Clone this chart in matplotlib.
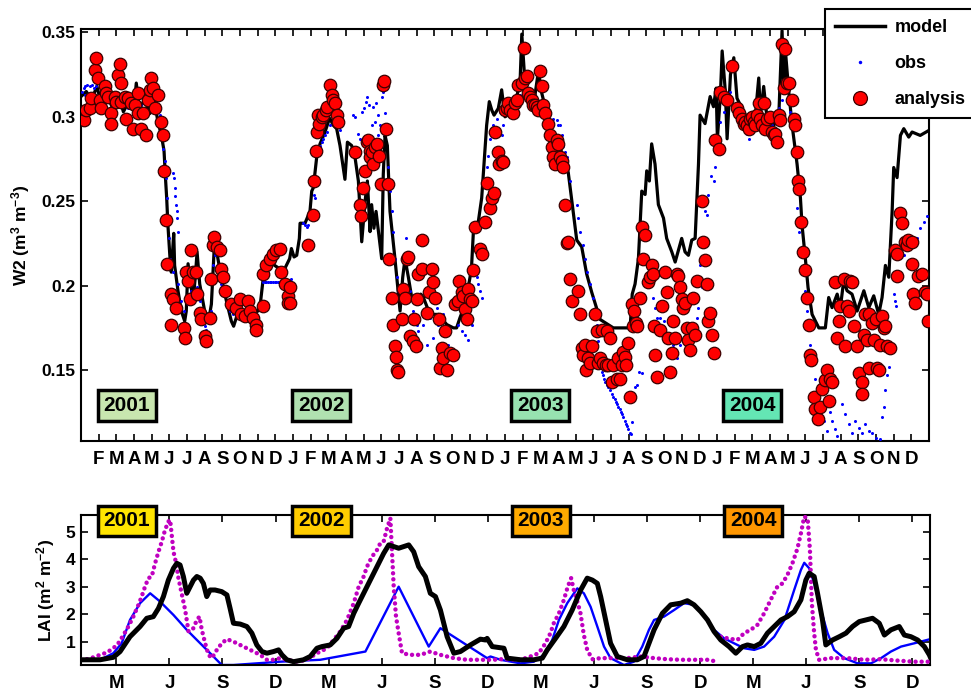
import numpy as np
import matplotlib
matplotlib.use('Agg')
import matplotlib.pyplot as plt
import matplotlib.transforms as mtransforms
from matplotlib.lines import Line2D

plt.rcParams['font.family'] = ['Liberation Sans', 'DejaVu Sans']
plt.rcParams['font.weight'] = 'bold'
plt.rcParams['mathtext.fontset'] = 'custom'
plt.rcParams['mathtext.rm'] = 'Liberation Sans:bold'
plt.rcParams['mathtext.it'] = 'Liberation Sans:bold'
plt.rcParams['mathtext.bf'] = 'Liberation Sans:bold'
plt.rcParams['mathtext.default'] = 'rm'

# time axis: months since 1 Jan 2001
years = ['2001', '2002', '2003', '2004']
year_pos = [2.6, 13.6, 26.0, 38.0]
w2_box_colors = ['#c8e6af', '#b0e1b0', '#97e2b0', '#64e6b4']
lai_box_colors = ['#ffe400', '#ffcc00', '#ffaa00', '#ff9600']
month_letters = list('JFMAMJJASOND')

# W2 model (month, m3/m3)
model_pts = [
    (0.0, 0.312), (0.3, 0.315), (0.6, 0.310), (0.9, 0.318), (1.2, 0.306), (1.5, 0.312),
    (1.8, 0.305), (2.1, 0.314), (2.4, 0.303), (2.7, 0.309), (3.0, 0.305), (3.13, 0.320),
    (3.3, 0.305), (3.6, 0.310), (3.9, 0.302), (4.1, 0.312), (4.36, 0.297), (4.55, 0.289),
    (4.70, 0.280), (4.77, 0.266), (4.85, 0.252), (4.92, 0.236), (5.04, 0.216), (5.11, 0.208),
    (5.25, 0.231), (5.30, 0.212), (5.49, 0.197), (5.68, 0.185), (5.87, 0.179), (5.96, 0.185),
    (6.06, 0.213), (6.21, 0.201), (6.34, 0.191), (6.47, 0.205), (6.57, 0.220), (6.72, 0.201),
    (7.0, 0.185), (7.25, 0.181), (7.38, 0.189), (7.57, 0.228), (7.75, 0.216), (7.94, 0.205),
    (8.23, 0.191), (8.51, 0.179), (8.64, 0.176), (8.79, 0.181), (8.98, 0.187), (9.26, 0.185),
    (9.64, 0.183), (10.02, 0.185), (10.17, 0.191), (10.30, 0.203), (10.49, 0.212), (10.68, 0.216),
    (10.96, 0.212), (11.25, 0.210), (11.53, 0.210), (11.81, 0.216), (11.91, 0.222), (12.06, 0.217),
    (12.21, 0.218), (12.36, 0.228), (12.40, 0.237), (12.68, 0.237), (12.96, 0.244), (13.06, 0.256),
    (13.15, 0.258), (13.34, 0.276), (13.53, 0.284), (13.81, 0.291), (14.0, 0.297), (14.09, 0.299),
    (14.28, 0.295), (14.47, 0.293), (14.66, 0.283), (14.94, 0.263), (15.08, 0.285), (15.32, 0.283),
    (15.51, 0.276), (15.70, 0.262), (15.89, 0.226), (16.08, 0.250), (16.21, 0.262), (16.36, 0.232),
    (16.45, 0.248), (16.58, 0.234), (16.70, 0.244), (16.79, 0.236), (17.02, 0.216), (17.11, 0.266),
    (17.21, 0.289), (17.34, 0.283), (17.49, 0.244), (17.77, 0.216), (18.06, 0.185), (18.21, 0.205),
    (18.34, 0.216), (18.53, 0.205), (18.72, 0.193), (19.0, 0.189), (19.23, 0.195), (19.38, 0.193),
    (19.75, 0.183), (20.23, 0.183), (20.70, 0.177), (21.08, 0.175), (21.26, 0.175), (21.45, 0.181),
    (21.74, 0.189), (22.02, 0.205), (22.11, 0.212), (22.21, 0.232), (22.49, 0.238), (22.68, 0.252),
    (22.81, 0.272), (22.96, 0.295), (23.11, 0.309), (23.25, 0.304), (23.38, 0.301), (23.62, 0.305),
    (23.81, 0.316), (24.0, 0.300), (24.47, 0.304), (24.85, 0.320), (24.95, 0.349), (25.13, 0.320),
    (25.6, 0.306), (25.89, 0.327), (26.08, 0.314), (26.55, 0.294), (27.11, 0.282), (27.58, 0.267),
    (27.87, 0.243), (28.06, 0.227), (28.34, 0.223), (28.62, 0.207), (28.91, 0.196), (29.38, 0.180),
    (30.13, 0.175), (31.08, 0.175), (31.2, 0.195), (31.36, 0.201), (31.55, 0.216), (31.74, 0.256),
    (31.93, 0.254), (32.02, 0.268), (32.17, 0.262), (32.30, 0.284), (32.49, 0.272), (32.68, 0.248),
    (32.97, 0.240), (33.15, 0.228), (33.44, 0.220), (33.63, 0.214), (34.0, 0.228), (34.19, 0.220),
    (34.38, 0.218), (34.57, 0.227), (34.76, 0.228), (34.95, 0.272), (35.04, 0.301), (35.32, 0.296),
    (35.61, 0.312), (35.80, 0.306), (35.95, 0.317), (36.02, 0.287), (36.19, 0.313), (36.29, 0.339),
    (36.47, 0.315), (36.57, 0.287), (36.76, 0.325), (36.95, 0.335), (37.13, 0.311), (37.42, 0.305),
    (37.80, 0.297), (38.17, 0.301), (38.36, 0.323), (38.46, 0.301), (38.64, 0.318), (38.83, 0.299),
    (39.21, 0.295), (39.49, 0.299), (39.68, 0.351), (39.78, 0.315), (39.87, 0.339), (40.06, 0.315),
    (40.25, 0.295), (40.53, 0.272), (40.72, 0.252), (40.81, 0.236), (41.0, 0.216), (41.15, 0.199),
    (41.38, 0.183), (41.76, 0.175), (42.13, 0.175), (42.32, 0.193), (42.51, 0.187), (42.80, 0.195),
    (42.98, 0.187), (43.17, 0.203), (43.36, 0.197), (43.64, 0.195), (43.93, 0.185), (44.31, 0.197),
    (44.59, 0.187), (44.87, 0.194), (45.15, 0.183), (45.34, 0.193), (45.53, 0.212), (45.72, 0.205),
    (45.91, 0.244), (46.0, 0.270), (46.19, 0.264), (46.38, 0.289), (46.57, 0.293), (46.85, 0.288),
    (47.04, 0.291), (47.5, 0.289), (48.0, 0.292),
]

# W2 observations
obs_pts = [
    (0.06, 0.315), (0.17, 0.317), (0.21, 0.313), (0.25, 0.318), (0.36, 0.319), (0.40, 0.312),
    (0.49, 0.318), (0.62, 0.319), (0.74, 0.317), (0.87, 0.318), (1.15, 0.315), (1.53, 0.311),
    (1.91, 0.309), (2.28, 0.312), (2.66, 0.305), (3.04, 0.310), (3.42, 0.307), (3.79, 0.303),
    (4.17, 0.307), (4.45, 0.301), (4.58, 0.291), (4.64, 0.281), (4.74, 0.274), (4.79, 0.264),
    (4.85, 0.252), (4.92, 0.240), (4.98, 0.228), (5.04, 0.216), (5.21, 0.267), (5.26, 0.264),
    (5.30, 0.258), (5.34, 0.253), (5.40, 0.248), (5.43, 0.244), (5.45, 0.240), (5.49, 0.232),
    (5.21, 0.208), (5.30, 0.197), (5.49, 0.201), (5.68, 0.191), (5.83, 0.185), (5.91, 0.177),
    (6.06, 0.189), (6.25, 0.197), (6.43, 0.207), (6.58, 0.199), (6.72, 0.191), (6.85, 0.183),
    (7.0, 0.176), (7.09, 0.174), (7.19, 0.172), (7.34, 0.185), (7.47, 0.212), (7.57, 0.218),
    (7.75, 0.208), (7.94, 0.201), (8.13, 0.195), (8.42, 0.185), (8.60, 0.183), (8.89, 0.187),
    (9.17, 0.185), (9.45, 0.188), (9.74, 0.185), (10.02, 0.181), (10.17, 0.187), (10.30, 0.202),
    (10.40, 0.202), (10.49, 0.202), (10.58, 0.202), (10.68, 0.202), (10.78, 0.202), (10.87, 0.202),
    (10.96, 0.202), (11.06, 0.202), (11.15, 0.202), (11.25, 0.202), (11.34, 0.202), (11.43, 0.202),
    (11.53, 0.202), (11.62, 0.202), (11.72, 0.202), (11.81, 0.203), (11.90, 0.204),
    (12.58, 0.237), (12.68, 0.236), (12.77, 0.235), (12.87, 0.236), (13.19, 0.254), (13.26, 0.252),
    (13.53, 0.283), (13.62, 0.285), (13.72, 0.287), (13.81, 0.289), (13.91, 0.291), (14.09, 0.295),
    (14.28, 0.297), (14.47, 0.295), (14.66, 0.292), (15.42, 0.301), (15.51, 0.300), (15.70, 0.290),
    (15.79, 0.287), (15.89, 0.303), (16.02, 0.305), (16.13, 0.309), (16.21, 0.312), (16.32, 0.307),
    (16.45, 0.295), (16.51, 0.306), (16.64, 0.297), (16.70, 0.308), (16.83, 0.301), (16.83, 0.289),
    (16.92, 0.295), (17.02, 0.312), (17.11, 0.315), (17.21, 0.302), (17.40, 0.270), (17.49, 0.256),
    (17.58, 0.244), (17.68, 0.232), (17.77, 0.216), (17.87, 0.205), (17.96, 0.197), (18.15, 0.191),
    (18.40, 0.228), (18.53, 0.220), (18.62, 0.197), (18.81, 0.185), (19.0, 0.177), (19.09, 0.173),
    (19.38, 0.177), (19.57, 0.165), (19.75, 0.181), (19.94, 0.169), (20.13, 0.187), (20.23, 0.177),
    (20.51, 0.183), (20.70, 0.173), (20.79, 0.165), (21.36, 0.177), (21.55, 0.173), (21.74, 0.171),
    (21.92, 0.168), (22.11, 0.177), (22.40, 0.205), (22.49, 0.201), (22.58, 0.197), (22.68, 0.193),
    (22.87, 0.260), (22.96, 0.270), (23.06, 0.277), (23.15, 0.287), (23.34, 0.295), (23.53, 0.299),
    (23.72, 0.303), (23.81, 0.289), (23.91, 0.295), (24.10, 0.303), (24.47, 0.307), (24.85, 0.313),
    (25.23, 0.317), (25.61, 0.309), (25.98, 0.307), (26.36, 0.303), (26.74, 0.299), (26.93, 0.298),
    (27.02, 0.295), (27.12, 0.295), (27.21, 0.289), (27.30, 0.283), (27.40, 0.279), (27.49, 0.276),
    (27.59, 0.270), (27.68, 0.262), (28.06, 0.248), (28.15, 0.240), (28.25, 0.232), (28.40, 0.224),
    (28.53, 0.216), (28.66, 0.208), (28.81, 0.201), (28.96, 0.193), (29.19, 0.177), (29.29, 0.167),
    (29.38, 0.158), (29.48, 0.149), (29.55, 0.147), (29.61, 0.145), (29.68, 0.143), (29.76, 0.141),
    (29.85, 0.140), (29.95, 0.138), (30.05, 0.136), (30.13, 0.134), (30.20, 0.133), (30.29, 0.131),
    (30.35, 0.130), (30.42, 0.128), (30.48, 0.127), (30.55, 0.125), (30.62, 0.124), (30.70, 0.122),
    (30.78, 0.120), (30.85, 0.118), (30.92, 0.117), (30.98, 0.115), (31.05, 0.113), (31.12, 0.112),
    (31.17, 0.119), (31.36, 0.140), (31.46, 0.141), (31.61, 0.149), (31.74, 0.148), (32.02, 0.199),
    (32.21, 0.212), (32.30, 0.201), (32.40, 0.193), (32.49, 0.187), (32.59, 0.181), (32.78, 0.181),
    (32.97, 0.179), (33.06, 0.169), (33.34, 0.167), (33.53, 0.165), (33.72, 0.157), (33.91, 0.165),
    (34.85, 0.181), (34.95, 0.187), (35.04, 0.212), (35.13, 0.199), (35.32, 0.244), (35.42, 0.242),
    (35.51, 0.254), (35.64, 0.265), (35.80, 0.262), (35.91, 0.270), (36.19, 0.297), (36.38, 0.303),
    (36.57, 0.307), (36.76, 0.315), (37.51, 0.293), (37.70, 0.290), (37.83, 0.287), (37.98, 0.291),
    (38.36, 0.295), (38.74, 0.297), (39.12, 0.295), (39.49, 0.305), (39.68, 0.310), (39.87, 0.315),
    (40.15, 0.303), (40.44, 0.264), (40.53, 0.246), (40.66, 0.232), (40.78, 0.220), (40.85, 0.208),
    (40.96, 0.197), (41.10, 0.185), (41.19, 0.175), (41.29, 0.165), (41.38, 0.153), (41.57, 0.145),
    (41.72, 0.138), (41.85, 0.128), (42.04, 0.120), (42.23, 0.114), (42.42, 0.125), (42.51, 0.120),
    (42.66, 0.115), (42.80, 0.111), (43.08, 0.130), (43.27, 0.124), (43.46, 0.118), (43.64, 0.113),
    (43.83, 0.120), (44.02, 0.116), (44.21, 0.113), (44.40, 0.118), (44.59, 0.114), (44.78, 0.113),
    (44.97, 0.110), (45.25, 0.109), (45.34, 0.122), (45.44, 0.128), (45.49, 0.138), (45.63, 0.147),
    (45.72, 0.152), (46.0, 0.195), (46.06, 0.191), (46.13, 0.188), (46.57, 0.218), (46.76, 0.222),
    (47.04, 0.224), (47.32, 0.228), (47.51, 0.234), (47.70, 0.238), (47.89, 0.241),
]

# W2 analysis
ana_pts = [
    (0.17, 0.298), (0.30, 0.304), (0.49, 0.305), (0.58, 0.311), (0.77, 0.328), (0.87, 0.335),
    (0.96, 0.323), (1.06, 0.310), (1.15, 0.305), (1.34, 0.318), (1.43, 0.314), (1.53, 0.312),
    (1.72, 0.302), (1.72, 0.296), (1.91, 0.312), (2.0, 0.309), (2.09, 0.325), (2.19, 0.331),
    (2.28, 0.320), (2.28, 0.309), (2.47, 0.312), (2.57, 0.299), (2.66, 0.311), (2.85, 0.308),
    (2.94, 0.293), (3.04, 0.307), (3.23, 0.314), (3.23, 0.302), (3.42, 0.293), (3.51, 0.302),
    (3.70, 0.289), (3.79, 0.310), (3.89, 0.316), (3.98, 0.323), (4.08, 0.317), (4.21, 0.305),
    (4.36, 0.313), (4.55, 0.297), (4.64, 0.289), (4.70, 0.268), (4.83, 0.239), (4.89, 0.213),
    (5.11, 0.195), (5.11, 0.177), (5.21, 0.192), (5.40, 0.187), (5.83, 0.175), (5.87, 0.169),
    (5.96, 0.208), (6.06, 0.203), (6.15, 0.192), (6.25, 0.221), (6.34, 0.208), (6.53, 0.208),
    (6.58, 0.195), (6.72, 0.184), (6.81, 0.180), (7.0, 0.170), (7.09, 0.167), (7.28, 0.181),
    (7.38, 0.204), (7.47, 0.224), (7.53, 0.229), (7.72, 0.223), (7.85, 0.221), (7.94, 0.210),
    (8.04, 0.205), (8.13, 0.197), (8.51, 0.189), (8.79, 0.187), (8.98, 0.192), (9.08, 0.183),
    (9.26, 0.182), (9.45, 0.191), (9.55, 0.185), (9.74, 0.181), (9.92, 0.177), (9.92, 0.174),
    (10.30, 0.188), (10.30, 0.207), (10.49, 0.212), (10.68, 0.216), (10.87, 0.219), (11.06, 0.221),
    (11.25, 0.222), (11.34, 0.208), (11.53, 0.201), (11.72, 0.194), (11.72, 0.190), (11.83, 0.199),
    (11.83, 0.190), (12.87, 0.224), (13.11, 0.242), (13.19, 0.262), (13.30, 0.280), (13.38, 0.291),
    (13.43, 0.301), (13.49, 0.296), (13.62, 0.300), (13.72, 0.301), (13.87, 0.304), (13.94, 0.306),
    (14.09, 0.319), (14.19, 0.313), (14.28, 0.310), (14.38, 0.308), (14.47, 0.301), (14.57, 0.297),
    (15.51, 0.279), (15.79, 0.248), (15.83, 0.241), (15.94, 0.258), (16.08, 0.268), (16.21, 0.285),
    (16.26, 0.286), (16.36, 0.280), (16.36, 0.276), (16.45, 0.279), (16.55, 0.272), (16.64, 0.282),
    (16.77, 0.284), (16.89, 0.277), (16.96, 0.260), (17.08, 0.319), (17.17, 0.321), (17.26, 0.293),
    (17.40, 0.260), (17.45, 0.216), (17.58, 0.193), (17.68, 0.177), (17.77, 0.164), (17.83, 0.158),
    (17.91, 0.150), (17.96, 0.149), (18.15, 0.180), (18.25, 0.198), (18.34, 0.193), (18.43, 0.216),
    (18.53, 0.217), (18.62, 0.170), (18.77, 0.167), (18.85, 0.180), (18.96, 0.164), (19.0, 0.192),
    (19.09, 0.207), (19.28, 0.227), (19.28, 0.210), (19.60, 0.184), (19.72, 0.196), (19.85, 0.210),
    (19.94, 0.202), (20.04, 0.193), (20.28, 0.180), (20.32, 0.151), (20.42, 0.163), (20.51, 0.157),
    (20.60, 0.173), (20.70, 0.150), (20.89, 0.160), (21.08, 0.159), (21.17, 0.189), (21.36, 0.191),
    (21.42, 0.203), (21.55, 0.196), (21.64, 0.194), (21.74, 0.186), (21.83, 0.180), (21.92, 0.198),
    (22.02, 0.192), (22.11, 0.191), (22.17, 0.209), (22.30, 0.235), (22.58, 0.222), (22.68, 0.219),
    (22.87, 0.238), (23.0, 0.261), (23.15, 0.246), (23.25, 0.252), (23.38, 0.255), (23.43, 0.291),
    (23.62, 0.279), (23.68, 0.272), (23.81, 0.274), (23.91, 0.273), (24.0, 0.304), (24.10, 0.305),
    (24.19, 0.308), (24.29, 0.304), (24.47, 0.302), (24.57, 0.308), (24.66, 0.310), (24.76, 0.319),
    (24.95, 0.320), (25.08, 0.341), (25.14, 0.323), (25.23, 0.324), (25.32, 0.314), (25.42, 0.312),
    (25.51, 0.310), (25.61, 0.307), (25.70, 0.307), (25.80, 0.306), (25.89, 0.304), (25.98, 0.327),
    (26.08, 0.318), (26.17, 0.307), (26.27, 0.302), (26.46, 0.296), (26.55, 0.289), (26.64, 0.282),
    (26.74, 0.276), (26.83, 0.272), (26.93, 0.286), (27.02, 0.284), (27.12, 0.276), (27.21, 0.274),
    (27.30, 0.270), (27.40, 0.248), (27.49, 0.225), (27.59, 0.226), (27.68, 0.204), (27.78, 0.191),
    (28.15, 0.197), (28.25, 0.183), (28.34, 0.163), (28.44, 0.159), (28.53, 0.165), (28.59, 0.150),
    (28.72, 0.157), (28.81, 0.154), (28.91, 0.164), (29.10, 0.183), (29.19, 0.173), (29.29, 0.154),
    (29.38, 0.157), (29.48, 0.174), (29.57, 0.154), (29.72, 0.153), (29.76, 0.173), (29.85, 0.153),
    (29.95, 0.169), (30.04, 0.143), (30.13, 0.153), (30.32, 0.145), (30.42, 0.157), (30.51, 0.145),
    (30.61, 0.153), (30.70, 0.161), (30.80, 0.158), (30.85, 0.153), (30.98, 0.166), (31.08, 0.134),
    (31.17, 0.189), (31.27, 0.176), (31.32, 0.185), (31.42, 0.178), (31.46, 0.176), (31.64, 0.193),
    (31.74, 0.235), (31.83, 0.216), (31.93, 0.230), (32.12, 0.202), (32.21, 0.205), (32.30, 0.212),
    (32.40, 0.207), (32.44, 0.176), (32.49, 0.159), (32.59, 0.146), (32.78, 0.174), (32.87, 0.188),
    (33.06, 0.208), (33.15, 0.196), (33.25, 0.169), (33.34, 0.149), (33.44, 0.160), (33.49, 0.179),
    (33.63, 0.169), (33.72, 0.207), (33.81, 0.206), (33.91, 0.199), (34.0, 0.192), (34.06, 0.187),
    (34.19, 0.190), (34.29, 0.175), (34.38, 0.168), (34.47, 0.162), (34.57, 0.175), (34.66, 0.193),
    (34.76, 0.171), (34.85, 0.203), (35.13, 0.250), (35.22, 0.226), (35.31, 0.215), (35.41, 0.201),
    (35.50, 0.179), (35.60, 0.184), (35.69, 0.171), (35.82, 0.160), (35.91, 0.286), (36.10, 0.281),
    (36.19, 0.315), (36.38, 0.312), (36.57, 0.310), (36.85, 0.330), (37.13, 0.305), (37.23, 0.302),
    (37.42, 0.299), (37.51, 0.296), (37.61, 0.297), (37.70, 0.295), (37.80, 0.293), (37.89, 0.299),
    (37.98, 0.300), (38.08, 0.297), (38.17, 0.295), (38.27, 0.301), (38.36, 0.308), (38.46, 0.299),
    (38.55, 0.295), (38.64, 0.308), (38.74, 0.293), (38.83, 0.299), (39.02, 0.300), (39.12, 0.291),
    (39.21, 0.289), (39.30, 0.290), (39.40, 0.285), (39.49, 0.301), (39.59, 0.298), (39.68, 0.343),
    (39.78, 0.317), (39.87, 0.340), (39.97, 0.320), (40.10, 0.320), (40.25, 0.310), (40.34, 0.299),
    (40.44, 0.295), (40.53, 0.279), (40.59, 0.262), (40.66, 0.257), (40.78, 0.238), (40.85, 0.220),
    (41.0, 0.209), (41.10, 0.193), (41.19, 0.177), (41.29, 0.159), (41.34, 0.156), (41.48, 0.134),
    (41.57, 0.127), (41.72, 0.121), (41.80, 0.128), (41.95, 0.139), (42.13, 0.144), (42.23, 0.150),
    (42.32, 0.132), (42.42, 0.145), (42.51, 0.143), (42.70, 0.202), (42.80, 0.169), (42.89, 0.179),
    (42.98, 0.188), (43.17, 0.204), (43.27, 0.164), (43.36, 0.188), (43.46, 0.185), (43.55, 0.203),
    (43.64, 0.202), (43.74, 0.176), (43.93, 0.164), (44.02, 0.148), (44.21, 0.143), (44.21, 0.136),
    (44.31, 0.171), (44.40, 0.183), (44.49, 0.168), (44.59, 0.151), (44.59, 0.183), (44.78, 0.178),
    (44.87, 0.168), (44.97, 0.180), (45.06, 0.151), (45.15, 0.150), (45.25, 0.165), (45.34, 0.182),
    (45.44, 0.175), (45.53, 0.176), (45.63, 0.164), (45.81, 0.163), (46.08, 0.221), (46.17, 0.219),
    (46.17, 0.206), (46.36, 0.243), (46.45, 0.237), (46.64, 0.226), (46.74, 0.224), (46.83, 0.227),
    (47.02, 0.226), (47.02, 0.213), (47.11, 0.195), (47.21, 0.190), (47.40, 0.206), (47.58, 0.207),
    (47.77, 0.196), (47.86, 0.195), (47.96, 0.179),
]

# LAI model (thick black)
lai_model_pts = [
    (0.0, 0.35), (1.08, 0.35), (1.83, 0.44), (2.21, 0.65), (2.77, 1.19), (3.34, 1.56), (3.72, 1.86),
    (4.09, 1.92), (4.38, 2.22), (4.66, 2.65), (4.94, 3.25), (5.23, 3.68), (5.42, 3.86), (5.60, 3.80),
    (5.79, 3.38), (5.98, 2.77), (6.17, 3.01), (6.36, 3.25), (6.55, 3.38), (6.74, 3.32), (6.92, 3.13),
    (7.11, 2.65), (7.30, 2.89), (7.58, 2.89), (7.96, 2.83), (8.25, 2.71), (8.43, 2.22), (8.62, 1.68),
    (9.0, 1.65), (9.38, 1.56), (9.66, 1.32), (9.94, 0.89), (10.23, 0.65), (10.51, 0.59), (10.89, 0.65),
    (11.17, 0.71), (11.36, 0.53), (11.64, 0.35), (12.02, 0.28), (12.58, 0.35), (12.96, 0.47),
    (13.34, 0.77), (13.62, 0.83), (14.09, 0.89), (14.47, 1.13), (14.85, 1.50), (15.13, 1.56),
    (15.42, 2.04), (15.70, 2.41), (15.98, 2.77), (16.26, 3.13), (16.55, 3.50), (16.83, 3.86),
    (17.11, 4.22), (17.40, 4.53), (17.68, 4.47), (17.96, 4.41), (18.25, 4.47), (18.53, 4.53),
    (18.81, 4.28), (19.09, 3.74), (19.47, 3.38), (19.75, 2.77), (20.04, 2.65), (20.32, 2.16),
    (20.70, 1.19), (21.08, 0.59), (21.45, 0.65), (22.02, 0.89), (22.58, 1.10), (22.87, 1.07),
    (22.96, 1.13), (23.25, 0.83), (23.91, 0.77), (24.09, 0.41), (24.85, 0.35), (25.60, 0.35),
    (26.08, 0.41), (26.36, 0.71), (26.83, 1.13), (27.30, 1.56), (27.77, 2.16), (28.25, 2.89),
    (28.62, 3.32), (28.91, 3.25), (29.19, 3.13), (29.38, 2.65), (29.66, 1.80), (29.94, 0.95),
    (30.32, 0.47), (30.89, 0.35), (31.45, 0.35), (31.83, 0.47), (32.11, 0.95), (32.40, 1.44),
    (32.87, 2.04), (33.34, 2.35), (33.91, 2.41), (34.28, 2.50), (34.66, 2.35), (35.04, 2.10),
    (35.42, 1.80), (35.79, 1.38), (36.17, 1.07), (36.64, 0.83), (37.02, 0.59), (37.40, 0.83),
    (37.68, 0.89), (38.06, 0.83), (38.43, 0.95), (38.81, 1.32), (39.19, 1.56), (39.57, 1.80),
    (39.94, 1.92), (40.32, 2.10), (40.70, 2.53), (40.98, 3.25), (41.17, 3.50), (41.45, 3.38),
    (41.64, 2.77), (41.92, 1.80), (42.11, 0.89), (42.49, 1.07), (42.87, 1.19), (43.25, 1.32),
    (43.62, 1.56), (44.0, 1.74), (44.38, 1.80), (44.75, 1.86), (45.13, 1.68), (45.42, 1.25),
    (45.79, 1.44), (46.26, 1.56), (46.55, 1.25), (46.92, 1.19), (47.30, 1.07), (47.68, 0.83),
    (47.96, 0.53), (48.0, 0.47),
]

# LAI second estimate (blue line)
lai_blue_pts = [
    (0.0, 0.35), (1.08, 0.35), (1.83, 0.59), (2.30, 0.95), (2.77, 1.80), (3.34, 2.41), (3.91, 2.77),
    (4.47, 2.47), (5.23, 1.98), (5.98, 1.44), (6.74, 0.95), (7.30, 0.59), (7.96, 0.16), (8.62, 0.16),
    (11.26, 0.28), (13.53, 0.35), (16.08, 0.65), (17.96, 3.01), (19.66, 0.83), (20.32, 1.50),
    (22.96, 0.41), (23.15, 0.47), (23.72, 0.35), (24.85, 0.22), (25.60, 0.28), (26.17, 0.53),
    (26.64, 1.07), (27.02, 1.80), (27.49, 2.41), (28.06, 2.95), (28.43, 2.77), (28.81, 2.28),
    (29.19, 1.56), (29.57, 0.83), (29.94, 0.41), (30.70, 0.16), (31.26, 0.28), (31.73, 0.83),
    (32.11, 1.44), (32.40, 1.80), (32.96, 1.92), (33.53, 2.16), (34.09, 2.41), (34.66, 2.35),
    (35.23, 1.98), (35.79, 1.44), (36.36, 1.13), (36.92, 0.95), (37.49, 0.77), (38.06, 0.71),
    (38.62, 0.83), (39.19, 1.19), (39.77, 1.80), (40.32, 2.89), (40.70, 3.62), (40.89, 3.88),
    (41.17, 3.68), (41.45, 3.13), (41.83, 2.16), (42.21, 1.32), (42.58, 0.71), (43.15, 0.41),
    (43.91, 0.22), (44.66, 0.22), (45.23, 0.41), (45.79, 0.65), (46.36, 0.83), (47.11, 0.95),
    (48.0, 1.10),
]

# LAI observed (magenta dots); nan marks a gap in the record
lai_obs_pts = [
    (0.0, 0.35), (0.32, 0.37), (0.70, 0.44), (1.08, 0.53), (1.45, 0.61), (1.83, 0.77), (2.11, 0.95),
    (2.40, 1.25), (2.68, 1.56), (2.96, 1.92), (3.25, 2.35), (3.43, 2.65), (3.62, 3.01), (3.81, 3.32),
    (4.0, 3.38), (4.19, 3.86), (4.38, 4.28), (4.57, 4.65), (4.75, 5.07), (4.94, 5.38), (5.04, 5.44),
    (5.23, 4.28), (5.38, 3.86), (5.51, 3.32), (5.89, 2.16), (6.08, 1.38), (6.36, 1.50), (6.55, 1.80),
    (6.70, 1.92), (6.83, 1.44), (7.02, 0.95), (7.21, 0.53), (7.40, 0.41), (7.68, 0.71), (7.96, 0.95),
    (8.25, 1.10), (8.62, 1.01), (9.0, 0.89), (9.38, 0.77), (9.75, 0.65), (10.13, 0.53), (10.51, 0.35),
    (10.89, 0.35), (11.26, 0.41), (11.64, 0.35), (12.21, 0.28), (12.77, 0.35), (13.34, 0.59),
    (13.91, 0.77), (14.28, 1.07), (14.66, 1.38), (15.04, 1.80), (15.42, 2.41), (15.70, 3.01),
    (15.98, 3.38), (16.17, 3.74), (16.45, 4.10), (16.74, 4.35), (16.92, 4.59), (17.11, 4.65),
    (17.30, 5.13), (17.49, 5.50), (17.68, 3.01), (17.81, 1.92), (17.96, 1.32), (18.15, 0.59),
    (18.62, 0.53), (19.19, 0.53), (19.75, 0.65), (20.32, 0.53), (21.08, 0.41), (21.83, 0.35),
    (22.58, 0.35), (23.34, 0.35), (23.72, 0.37), (24.85, 0.35), (25.41, 0.47), (25.88, 0.59),
    (26.26, 0.95), (26.54, 1.32), (26.73, 1.68), (27.02, 2.04), (27.30, 2.53), (27.52, 3.01),
    (27.71, 3.32), (27.86, 2.89), (28.09, 2.41), (28.24, 2.04), (28.43, 1.25), (28.62, 0.71),
    (28.91, 0.37), (29.38, 0.41), (30.13, 0.41), (30.89, 0.41), (31.64, 0.47), (32.40, 0.41),
    (33.15, 0.37), (33.91, 0.35), (34.66, 0.35), (35.42, 0.35), (35.98, 0.28), (np.nan, np.nan),
    (36.17, 1.19), (36.55, 1.13), (37.11, 1.07), (37.49, 1.32), (37.86, 1.44), (38.24, 1.62),
    (38.62, 2.04), (38.99, 2.53), (39.37, 3.01), (39.66, 3.13), (39.94, 3.44), (40.22, 3.86),
    (40.51, 4.41), (40.70, 4.95), (40.89, 5.56), (41.08, 5.50), (41.21, 4.35), (41.32, 2.41),
    (41.45, 1.32), (41.55, 0.71), (41.73, 0.35), (42.40, 0.41), (43.34, 0.41), (44.28, 0.35),
    (45.23, 0.37), (46.17, 0.32), (47.11, 0.28), (47.96, 0.28),
]

model_t, model_w2 = np.array(model_pts).T
obs_t, obs_w2 = np.array(obs_pts).T
ana_t, ana_w2 = np.array(ana_pts).T
laim_t, laim_v = np.array(lai_model_pts).T
laib_t, laib_v = np.array(lai_blue_pts).T
laio_t, laio_v = np.array(lai_obs_pts).T

fig = plt.figure(figsize=(9.71, 6.93), dpi=100)
ax1 = fig.add_axes([0.0834, 0.3636, 0.8734, 0.5945])
ax2 = fig.add_axes([0.0834, 0.0404, 0.8744, 0.2165])

# ---- top panel: W2
ax1.plot(model_t, model_w2, color='black', lw=2.3, zorder=2)
ax1.plot(obs_t, obs_w2, ls='none', marker='o', ms=2.2, mfc='#0000ff', mec='none', zorder=3)
ax1.plot(ana_t, ana_w2, ls='none', marker='o', ms=9, mfc='#ff0000', mec='#3c0000',
         mew=0.9, zorder=4)
ax1.set_xlim(0, 48)
ax1.set_ylim(0.108, 0.352)
ax1.set_yticks([0.15, 0.2, 0.25, 0.3, 0.35])
ax1.set_yticklabels(['0.15', '0.2', '0.25', '0.3', '0.35'])
mticks = list(range(1, 48))
ax1.set_xticks(mticks)
ax1.set_xticklabels([month_letters[m % 12] for m in mticks])
ax1.set_ylabel('W2 (m$^{3}$ m$^{-3}$)', fontsize=12.5, fontweight='bold')
ax1.yaxis.set_label_coords(-0.058, 0.5)

trans1 = mtransforms.blended_transform_factory(ax1.transData, ax1.transAxes)
for yr, xp, c in zip(years, year_pos, w2_box_colors):
    ax1.text(xp, 0.087, yr, transform=trans1, ha='center', va='center', fontsize=15,
             fontweight='bold', family=['Liberation Sans Narrow', 'Liberation Sans'],
             bbox=dict(boxstyle='square,pad=0.28', fc=c, ec='black', lw=2.5), zorder=6)

handles = [Line2D([], [], color='black', lw=2.5),
           Line2D([], [], ls='none', marker='o', ms=2.5, mfc='#0000ff', mec='none'),
           Line2D([], [], ls='none', marker='o', ms=10, mfc='#ff0000', mec='#3c0000', mew=0.9)]
leg = ax1.legend(handles, ['model', 'obs', 'analysis'], loc='upper left',
                 bbox_to_anchor=(0.877, 1.048), fontsize=13, frameon=True, fancybox=False,
                 edgecolor='black', framealpha=1, handlelength=2.8, handletextpad=0.5,
                 labelspacing=1.05, borderpad=0.55, borderaxespad=0)
leg.get_frame().set_linewidth(1.5)
leg.set_zorder(10)
for t in leg.get_texts():
    t.set_fontweight('bold')

# ---- bottom panel: LAI
ax2.plot(laib_t, laib_v, color='#0000ff', lw=1.7, zorder=2)
ax2.plot(laio_t, laio_v, color='#c000c0', lw=3.2, ls=(0, (0.01, 1.35)),
         dash_capstyle='round', zorder=3)
ax2.plot(laim_t, laim_v, color='black', lw=3.6, zorder=4)
ax2.set_xlim(0, 48)
ax2.set_ylim(0.16, 5.62)
ax2.set_yticks([1, 2, 3, 4, 5])
lticks = list(range(2, 48, 3))
ax2.set_xticks(lticks)
ax2.set_xticklabels([month_letters[m % 12] for m in lticks])
ax2.set_ylabel('LAI (m$^{2}$ m$^{-2}$)', fontsize=12.5, fontweight='bold')
ax2.yaxis.set_label_coords(-0.028, 0.5)

trans2 = mtransforms.blended_transform_factory(ax2.transData, ax2.transAxes)
for yr, xp, c in zip(years, year_pos, lai_box_colors):
    ax2.text(xp, 0.96, yr, transform=trans2, ha='center', va='center', fontsize=15,
             fontweight='bold', family=['Liberation Sans Narrow', 'Liberation Sans'],
             bbox=dict(boxstyle='square,pad=0.28', fc=c, ec='black', lw=2.5), zorder=6,
             clip_on=False)

for ax in (ax1, ax2):
    for s in ax.spines.values():
        s.set_linewidth(1.5)
    ax.tick_params(direction='in', length=5, width=1.2, top=True, right=True)
    ax.tick_params(axis='x', pad=7, labelsize=13.5)
    ax.tick_params(axis='y', pad=4, labelsize=12.5)
    for lab in ax.get_xticklabels() + ax.get_yticklabels():
        lab.set_fontweight('bold')

fig.savefig('out.png', dpi=100)
